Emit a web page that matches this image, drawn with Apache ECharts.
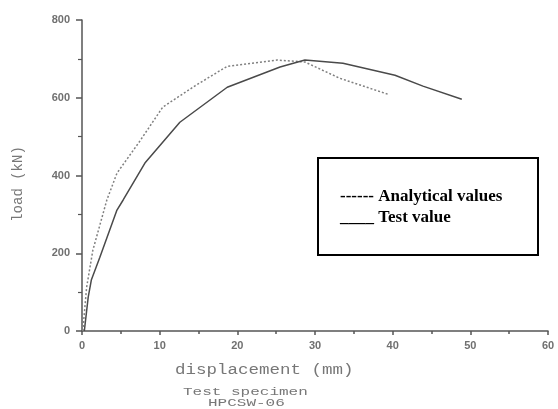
<!DOCTYPE html>
<html>
<head>
<meta charset="utf-8">
<script src="https://cdn.jsdelivr.net/npm/echarts@6/dist/echarts.min.js"></script>
<style>html,body{margin:0;padding:0;background:#fff;}#c{width:558px;height:409px;}</style>
</head>
<body>
<div id="c"></div>
<script>
// Analytical values (dashed)
const analyticalDisp = [0.1, 0.6, 1.4, 3.2, 4.5, 7.5, 10.4, 14.5, 18.7, 25.1, 28.7, 33.2, 39.4];
const analyticalLoad = [0, 113, 208, 337, 406, 490, 576, 630, 681, 697, 692, 650, 609];
// Test value (solid)
const testDisp = [0.3, 0.8, 1.2, 2.3, 4.5, 5.3, 8.1, 12.6, 18.7, 25.5, 28.7, 33.6, 40.3, 43.9, 48.9];
const testLoad = [0, 87, 131, 190, 311, 337, 432, 537, 627, 679, 697, 689, 658, 630, 596];
const xTicks = [0, 10, 20, 30, 40, 50, 60];
const yTicks = [0, 200, 400, 600, 800];

const pair = (xs, ys) => xs.map((x, i) => [x, ys[i]]);
const chart = echarts.init(document.getElementById('c'));
const axisCol = '#555';
chart.setOption({
  animation: false,
  grid: {left: 82, top: 20, right: 10, bottom: 78},
  xAxis: {
    type: 'value', min: xTicks[0], max: xTicks[xTicks.length - 1], interval: xTicks[1] - xTicks[0],
    axisLine: {lineStyle: {color: axisCol, width: 1.5}},
    axisTick: {show: true, inside: false, length: 4, lineStyle: {color: axisCol, width: 1.5}},
    minorTick: {show: true, splitNumber: 2, length: 3, lineStyle: {color: axisCol, width: 1.5}},
    splitLine: {show: false},
    axisLabel: {color: '#707070', fontSize: 11, fontWeight: 'bold', fontFamily: 'Liberation Sans', margin: 9}
  },
  yAxis: {
    type: 'value', min: yTicks[0], max: yTicks[yTicks.length - 1], interval: yTicks[1] - yTicks[0],
    axisLine: {show: true, lineStyle: {color: axisCol, width: 1.5}},
    axisTick: {show: true, length: 6, lineStyle: {color: axisCol, width: 1.5}},
    minorTick: {show: true, splitNumber: 2, length: 4, lineStyle: {color: axisCol, width: 1.2}},
    splitLine: {show: false},
    axisLabel: {color: '#707070', fontSize: 11, fontWeight: 'bold', fontFamily: 'Liberation Sans', margin: 12}
  },
  series: [
    {name: 'Analytical values', type: 'line', data: pair(analyticalDisp, analyticalLoad), showSymbol: false,
     lineStyle: {color: '#808080', width: 1.5, type: [2, 2]}},
    {name: 'Test value', type: 'line', data: pair(testDisp, testLoad), showSymbol: false,
     lineStyle: {color: '#4a4a4a', width: 1.5}}
  ],
  graphic: [
    {type: 'text', x: 18, y: 184, rotation: Math.PI / 2,
     style: {text: 'load (kN)', font: '14px "Liberation Mono"', fill: '#777', textAlign: 'center', textVerticalAlign: 'middle'}},
    {type: 'text', x: 175, y: 370, scaleY: 0.85,
     style: {text: 'displacement (mm)', font: '17.5px "Liberation Mono"', fill: '#777', textVerticalAlign: 'middle'}},
    {type: 'text', x: 183, y: 392, scaleY: 0.7,
     style: {text: 'Test specimen', font: '16px "Liberation Mono"', fill: '#777', textVerticalAlign: 'middle'}},
    {type: 'text', x: 208, y: 403, scaleY: 0.7,
     style: {text: 'HPCSW-06', font: '16px "Liberation Mono"', fill: '#777', textVerticalAlign: 'middle'}},
    {type: 'rect', shape: {x: 318, y: 158, width: 220, height: 97}, style: {fill: '#fff', stroke: '#000', lineWidth: 2}},
    {type: 'text', x: 340, y: 197, style: {text: '------ Analytical values', font: 'bold 17px "Liberation Serif"', fill: '#000', textVerticalAlign: 'middle'}},
    {type: 'text', x: 340, y: 218, style: {text: '____ Test value', font: 'bold 17px "Liberation Serif"', fill: '#000', textVerticalAlign: 'middle'}}
  ]
});
</script>
</body>
</html>
